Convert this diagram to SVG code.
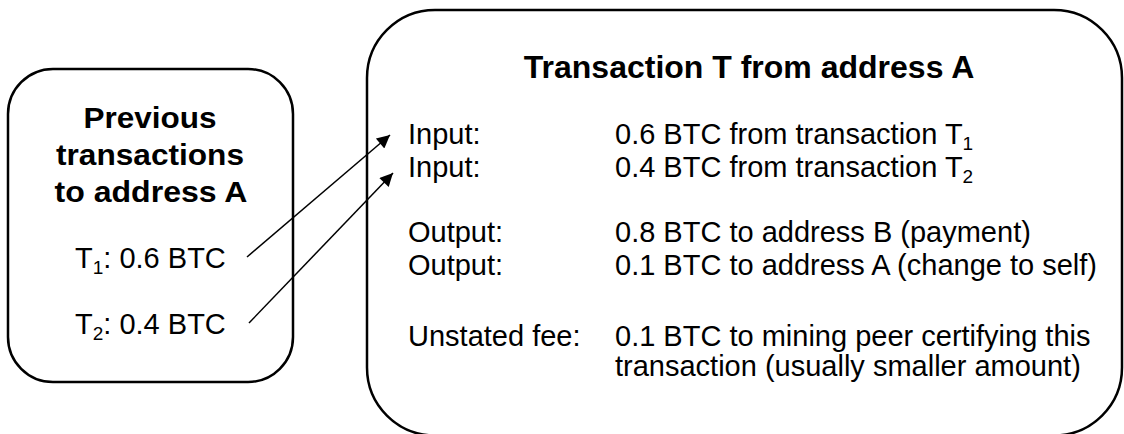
<svg xmlns="http://www.w3.org/2000/svg" width="1124" height="434" viewBox="0 0 1124 434">
<style>
.box{fill:#fff;stroke:#000;stroke-width:2.5}
.t{font-family:"Liberation Sans",Arial,sans-serif;fill:#000}
.b{font-weight:bold}
.body{font-size:29px}
.sub{font-size:19px}
.conn{stroke:#000;stroke-width:1.5;fill:none}
</style>
<defs>
<marker id="ah" viewBox="0 0 10 10" refX="10" refY="5" markerWidth="17" markerHeight="13" markerUnits="userSpaceOnUse" orient="auto">
<path d="M0,0 L10,5 L0,10 z" fill="#000"/>
</marker>
</defs>
<rect width="1124" height="434" fill="#fff"/>
<g id="prev">
<rect class="box" x="8" y="69" width="285" height="313" rx="45" ry="45"/>
<text class="t b" font-size="29" text-anchor="middle" x="150" y="128" textLength="133" lengthAdjust="spacingAndGlyphs">Previous</text>
<text class="t b" font-size="29" text-anchor="middle" x="150" y="165" textLength="188" lengthAdjust="spacingAndGlyphs">transactions</text>
<text class="t b" font-size="29" text-anchor="middle" x="151" y="202" textLength="193" lengthAdjust="spacingAndGlyphs">to address A</text>
<text class="t body" x="75" y="268">T<tspan class="sub" dy="6">1</tspan><tspan dy="-6">: 0.6 BTC</tspan></text>
<text class="t body" x="75" y="334">T<tspan class="sub" dy="6">2</tspan><tspan dy="-6">: 0.4 BTC</tspan></text>
</g>
<g id="tx">
<rect class="box" x="367" y="10" width="755" height="425.5" rx="68" ry="68"/>
<text class="t b" font-size="32" text-anchor="middle" x="749" y="78">Transaction T from address A</text>
<text class="t body" x="408" y="144">Input:</text>
<text class="t body" x="615" y="144">0.6 BTC from transaction T<tspan class="sub" dy="6">1</tspan></text>
<text class="t body" x="408" y="177">Input:</text>
<text class="t body" x="615" y="177">0.4 BTC from transaction T<tspan class="sub" dy="6">2</tspan></text>
<text class="t body" x="408" y="242">Output:</text>
<text class="t body" x="615" y="242">0.8 BTC to address B (payment)</text>
<text class="t body" x="408" y="275">Output:</text>
<text class="t body" x="615" y="275">0.1 BTC to address A (change to self)</text>
<text class="t body" x="408" y="346">Unstated fee:</text>
<text class="t body" x="615" y="346">0.1 BTC to mining peer certifying this</text>
<text class="t body" x="615" y="376">transaction (usually smaller amount)</text>
</g>
<g id="connectors">
<line class="conn" x1="247" y1="257" x2="390" y2="135" marker-end="url(#ah)"/>
<line class="conn" x1="249" y1="323" x2="393" y2="173" marker-end="url(#ah)"/>
</g>
</svg>
